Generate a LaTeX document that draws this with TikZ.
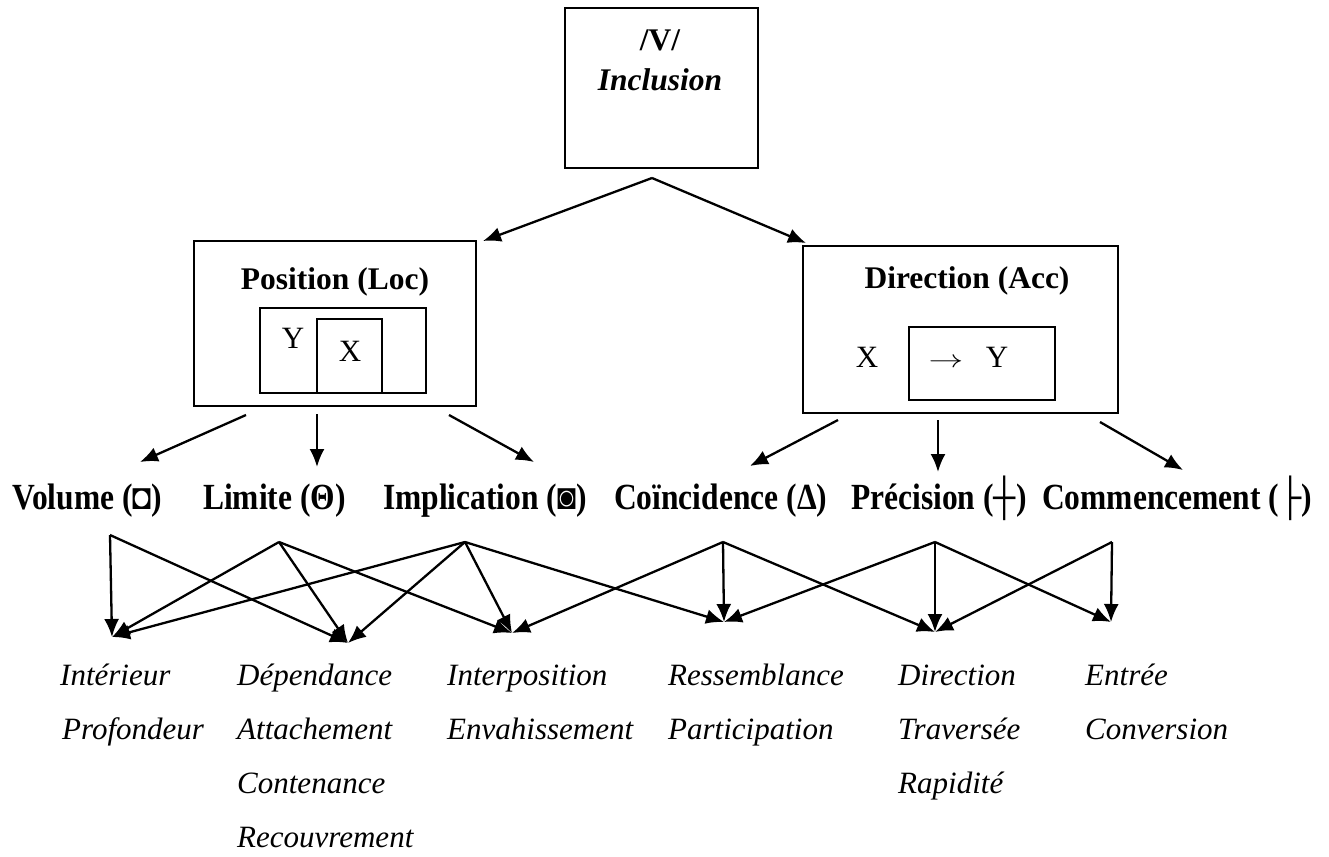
\documentclass[tikz,border=0pt]{standalone}
\usepackage{fontspec}
\setmainfont{Liberation Serif}
\usetikzlibrary{arrows.meta}
\newcommand\catfont{\fontsize{31.5bp}{36bp}\selectfont\bfseries}
\newcommand\exfont{\fontsize{31bp}{36bp}\selectfont\itshape}
\newcommand\plainfont{\fontsize{31bp}{36bp}\selectfont}
\newcommand\tallbox[1]{\scalebox{1}[1.17]{#1}}
\begin{document}
\begin{tikzpicture}[x=1bp,y=-1bp,
  frame/.style={draw, line width=1.6bp, inner sep=0pt, outer sep=0pt},
  conn/.style={line width=2.3bp, -{Latex[length=18bp,width=15bp]}},
  cat/.style={font=\catfont, anchor=base west, inner sep=0pt},
  ex/.style={font=\exfont, anchor=base west, inner sep=0pt},
  txt/.style={font=\plainfont, anchor=base, inner sep=0pt}]
\useasboundingbox (0,0) rectangle (1329,856);
% top box
\node[frame, minimum width=193bp, minimum height=160bp] (top) at (661.5,88) {};
\node[txt, font=\catfont] (v) at (660,50) {/V/};
\node[txt, font=\catfont\itshape] (incl) at (660,90) {Inclusion};
% left box
\node[frame, minimum width=282bp, minimum height=165bp] (pos) at (335,323.5) {};
\node[txt, font=\catfont] (postitle) at (335,289) {Position (Loc)};
\node[frame, minimum width=166bp, minimum height=85bp] (ybox) at (343,350.5) {};
\node[frame, minimum width=65bp, minimum height=74bp] (xbox) at (349.5,356) {};
\node[txt] (ly) at (293,348) {Y};
\node[txt] (lx) at (350,361) {X};
% right box
\node[frame, minimum width=315bp, minimum height=167bp] (dir) at (960.5,329.5) {};
\node[txt, font=\catfont] (dirtitle) at (967,288) {Direction (Acc)};
\node[frame, minimum width=146bp, minimum height=73bp] (inbox) at (982,363.5) {};
\node[txt] (rx) at (867,367) {X};
\node[txt] (rarr) at (946,367) {\scalebox{1.4}[1]{$\rightarrow$}};
\node[txt] (ry) at (997,367) {Y};
% top arrows
\coordinate (apex) at (652,178);
\coordinate (posin) at (483,241);
\coordinate (dirin) at (806,243);
\draw[conn] (apex) -- (posin);
\draw[conn] (apex) -- (dirin);
% category labels
\node[cat] (vol) at (12,509) {\tallbox{Volume (◘)}};
\node[cat] (lim) at (203,509) {\tallbox{Limite (Θ)}};
\node[cat] (imp) at (383,509) {\tallbox{Implication (◙)}};
\node[cat] (coi) at (614,509) {\tallbox{Coïncidence (Δ)}};
\node[cat] (pre) at (851,509) {\tallbox{Précision (┼)}};
\node[cat] (com) at (1042,509) {\tallbox{Commencement (├)}};
% arrows from boxes to categories
\coordinate (p1) at (246,415); \coordinate (p1e) at (140,462);
\coordinate (p2) at (317,414); \coordinate (p2e) at (317,467);
\coordinate (p3) at (449,415); \coordinate (p3e) at (534,462);
\coordinate (d1) at (838,420); \coordinate (d1e) at (750,466);
\coordinate (d2) at (938,420); \coordinate (d2e) at (938,472);
\coordinate (d3) at (1100,422); \coordinate (d3e) at (1183,470);
\draw[conn] (p1) -- (p1e);
\draw[conn] (p2) -- (p2e);
\draw[conn] (p3) -- (p3e);
\draw[conn] (d1) -- (d1e);
\draw[conn] (d2) -- (d2e);
\draw[conn] (d3) -- (d3e);
% sources and targets
\coordinate (s1) at (110,535);
\coordinate (s2) at (279,542);
\coordinate (s3) at (465,542);
\coordinate (s4) at (723,542);
\coordinate (s5) at (935,542);
\coordinate (s6) at (1112,542);
\coordinate (t1) at (112,637);
\coordinate (t2) at (348,643);
\coordinate (t3) at (512,633);
\coordinate (t4) at (724,622);
\coordinate (t5) at (935,632);
\coordinate (t6) at (1111,622);
\draw[conn] (s1) -- (t1);
\draw[conn] (s1) -- (t2);
\draw[conn] (s2) -- (t1);
\draw[conn] (s2) -- (t2);
\draw[conn] (s2) -- (t3);
\draw[conn] (s3) -- (t1);
\draw[conn] (s3) -- (t2);
\draw[conn] (s3) -- (t3);
\draw[conn] (s3) -- (t4);
\draw[conn] (s4) -- (t3);
\draw[conn] (s4) -- (t4);
\draw[conn] (s4) -- (t5);
\draw[conn] (s5) -- (t4);
\draw[conn] (s5) -- (t5);
\draw[conn] (s5) -- (t6);
\draw[conn] (s6) -- (t5);
\draw[conn] (s6) -- (t6);
% examples
\node[ex] (e11) at (60,685) {Intérieur};
\node[ex] (e12) at (62,739) {Profondeur};
\node[ex] (e21) at (237,685) {Dépendance};
\node[ex] (e22) at (237,739) {Attachement};
\node[ex] (e23) at (237,793) {Contenance};
\node[ex] (e24) at (237,847) {Recouvrement};
\node[ex] (e31) at (447,685) {Interposition};
\node[ex] (e32) at (447,739) {Envahissement};
\node[ex] (e41) at (668,685) {Ressemblance};
\node[ex] (e42) at (668,739) {Participation};
\node[ex] (e51) at (898,685) {Direction};
\node[ex] (e52) at (898,739) {Traversée};
\node[ex] (e53) at (898,793) {Rapidité};
\node[ex] (e61) at (1085,685) {Entrée};
\node[ex] (e62) at (1085,739) {Conversion};
\end{tikzpicture}
\end{document}
